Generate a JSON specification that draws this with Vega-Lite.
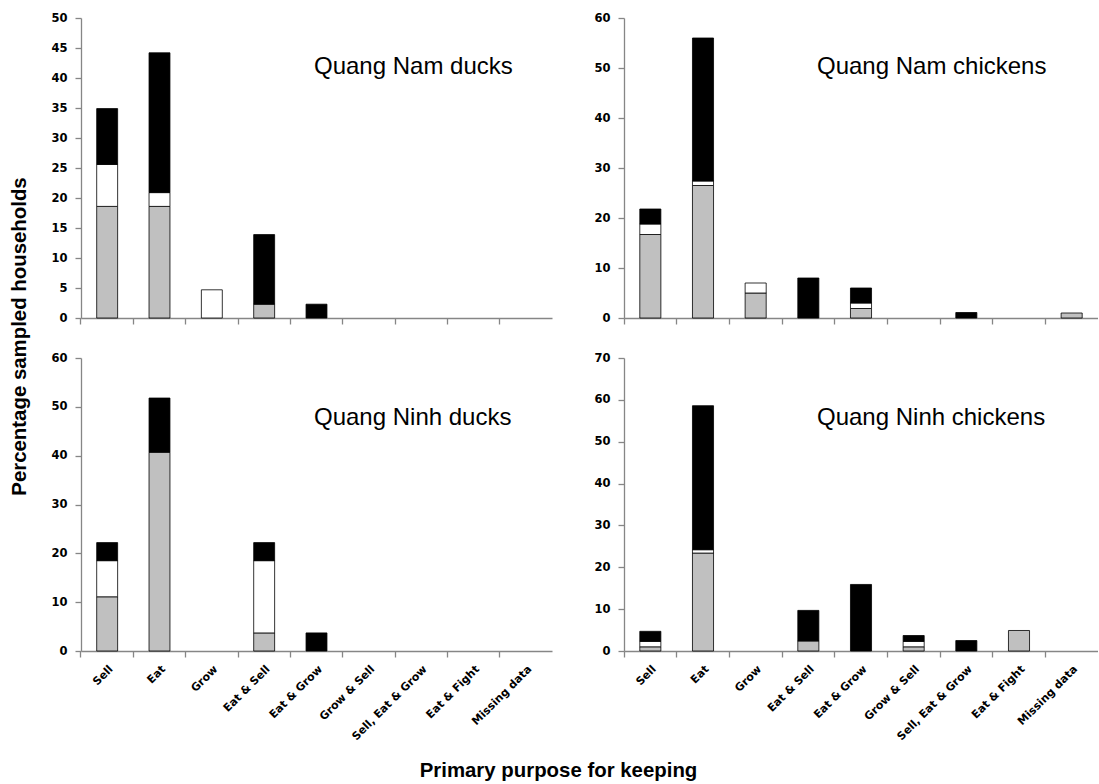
{
  "$schema": "https://vega.github.io/schema/vega-lite/v6.json",
  "background": "white",
  "autosize": {"type": "pad"},
  "padding": {"left": 9, "top": 12, "right": 0, "bottom": 0},
  "config": {
    "view": {"stroke": null},
    "font": "Liberation Sans",
    "axis": {
      "grid": false,
      "domainColor": "#868686",
      "tickColor": "#868686",
      "domainWidth": 1.3,
      "tickWidth": 1.3,
      "tickSize": 6,
      "labelFont": "DejaVu Sans",
      "labelFontWeight": "bold",
      "labelFontSize": 11.5,
      "labelColor": "#000000",
      "titleFont": "Liberation Sans",
      "titleFontSize": 20.4,
      "titleFontWeight": "bold",
      "titleColor": "#000000"
    },
    "axisY": {"labelPadding": 8},
    "title": {"font": "Liberation Sans", "fontSize": 24, "fontWeight": "normal", "color": "#000000", "anchor": "start", "frame": "group", "baseline": "alphabetic"}
  },
  "data": {
    "values": [
      {"panel": "Quang Nam ducks", "purpose": "Sell", "segment": "A", "value": 18.6},
      {"panel": "Quang Nam ducks", "purpose": "Sell", "segment": "B", "value": 7.0},
      {"panel": "Quang Nam ducks", "purpose": "Sell", "segment": "C", "value": 9.3},
      {"panel": "Quang Nam ducks", "purpose": "Eat", "segment": "A", "value": 18.6},
      {"panel": "Quang Nam ducks", "purpose": "Eat", "segment": "B", "value": 2.3},
      {"panel": "Quang Nam ducks", "purpose": "Eat", "segment": "C", "value": 23.3},
      {"panel": "Quang Nam ducks", "purpose": "Grow", "segment": "B", "value": 4.7},
      {"panel": "Quang Nam ducks", "purpose": "Eat & Sell", "segment": "A", "value": 2.3},
      {"panel": "Quang Nam ducks", "purpose": "Eat & Sell", "segment": "C", "value": 11.6},
      {"panel": "Quang Nam ducks", "purpose": "Eat & Grow", "segment": "C", "value": 2.3},

      {"panel": "Quang Nam chickens", "purpose": "Sell", "segment": "A", "value": 16.7},
      {"panel": "Quang Nam chickens", "purpose": "Sell", "segment": "B", "value": 2.1},
      {"panel": "Quang Nam chickens", "purpose": "Sell", "segment": "C", "value": 3.0},
      {"panel": "Quang Nam chickens", "purpose": "Eat", "segment": "A", "value": 26.5},
      {"panel": "Quang Nam chickens", "purpose": "Eat", "segment": "B", "value": 0.9},
      {"panel": "Quang Nam chickens", "purpose": "Eat", "segment": "C", "value": 28.6},
      {"panel": "Quang Nam chickens", "purpose": "Grow", "segment": "A", "value": 5.0},
      {"panel": "Quang Nam chickens", "purpose": "Grow", "segment": "B", "value": 2.0},
      {"panel": "Quang Nam chickens", "purpose": "Eat & Sell", "segment": "C", "value": 8.0},
      {"panel": "Quang Nam chickens", "purpose": "Eat & Grow", "segment": "A", "value": 1.9},
      {"panel": "Quang Nam chickens", "purpose": "Eat & Grow", "segment": "B", "value": 1.1},
      {"panel": "Quang Nam chickens", "purpose": "Eat & Grow", "segment": "C", "value": 3.0},
      {"panel": "Quang Nam chickens", "purpose": "Sell, Eat & Grow", "segment": "C", "value": 1.1},
      {"panel": "Quang Nam chickens", "purpose": "Missing data", "segment": "A", "value": 1.0},

      {"panel": "Quang Ninh ducks", "purpose": "Sell", "segment": "A", "value": 11.1},
      {"panel": "Quang Ninh ducks", "purpose": "Sell", "segment": "B", "value": 7.4},
      {"panel": "Quang Ninh ducks", "purpose": "Sell", "segment": "C", "value": 3.7},
      {"panel": "Quang Ninh ducks", "purpose": "Eat", "segment": "A", "value": 40.7},
      {"panel": "Quang Ninh ducks", "purpose": "Eat", "segment": "C", "value": 11.1},
      {"panel": "Quang Ninh ducks", "purpose": "Eat & Sell", "segment": "A", "value": 3.7},
      {"panel": "Quang Ninh ducks", "purpose": "Eat & Sell", "segment": "B", "value": 14.8},
      {"panel": "Quang Ninh ducks", "purpose": "Eat & Sell", "segment": "C", "value": 3.7},
      {"panel": "Quang Ninh ducks", "purpose": "Eat & Grow", "segment": "C", "value": 3.7},

      {"panel": "Quang Ninh chickens", "purpose": "Sell", "segment": "A", "value": 1.0},
      {"panel": "Quang Ninh chickens", "purpose": "Sell", "segment": "B", "value": 1.3},
      {"panel": "Quang Ninh chickens", "purpose": "Sell", "segment": "C", "value": 2.4},
      {"panel": "Quang Ninh chickens", "purpose": "Eat", "segment": "A", "value": 23.4},
      {"panel": "Quang Ninh chickens", "purpose": "Eat", "segment": "B", "value": 0.8},
      {"panel": "Quang Ninh chickens", "purpose": "Eat", "segment": "C", "value": 34.4},
      {"panel": "Quang Ninh chickens", "purpose": "Eat & Sell", "segment": "A", "value": 2.4},
      {"panel": "Quang Ninh chickens", "purpose": "Eat & Sell", "segment": "C", "value": 7.3},
      {"panel": "Quang Ninh chickens", "purpose": "Eat & Grow", "segment": "C", "value": 15.9},
      {"panel": "Quang Ninh chickens", "purpose": "Grow & Sell", "segment": "A", "value": 1.0},
      {"panel": "Quang Ninh chickens", "purpose": "Grow & Sell", "segment": "B", "value": 1.3},
      {"panel": "Quang Ninh chickens", "purpose": "Grow & Sell", "segment": "C", "value": 1.4},
      {"panel": "Quang Ninh chickens", "purpose": "Sell, Eat & Grow", "segment": "C", "value": 2.5},
      {"panel": "Quang Ninh chickens", "purpose": "Eat & Fight", "segment": "A", "value": 4.9}
    ]
  },
  "columns": 2,
  "bounds": "flush",
  "spacing": {"row": 40, "column": 72},
  "concat": [
    {
      "width": 471,
      "height": 300,
      "title": {"text": "Quang Nam ducks", "dx": 233, "offset": -67},
      "transform": [{"filter": "datum.panel === 'Quang Nam ducks'"}],
      "mark": {"type": "bar", "stroke": "#000000", "strokeWidth": 0.8},
      "encoding": {
        "x": {
          "field": "purpose", "type": "nominal",
          "scale": {"domain": ["Sell", "Eat", "Grow", "Eat & Sell", "Eat & Grow", "Grow & Sell", "Sell, Eat & Grow", "Eat & Fight", "Missing data"], "paddingInner": 0.6, "paddingOuter": 0.3},
          "axis": {"labels": false, "title": null, "bandPosition": -0.75}
        },
        "y": {
          "field": "value", "type": "quantitative", "stack": "zero",
          "scale": {"domain": [0, 50]},
          "axis": {"values": [0, 5, 10, 15, 20, 25, 30, 35, 40, 45, 50], "title": "Percentage sampled households", "titleX": -56, "titleY": 318, "titleAlign": "center", "titleBaseline": "alphabetic", "titleAngle": 270}
        },
        "color": {"field": "segment", "type": "nominal", "scale": {"domain": ["A", "B", "C"], "range": ["#c0c0c0", "#ffffff", "#000000"]}, "legend": null},
        "order": {"field": "segment", "sort": "ascending"}
      }
    },
    {
      "width": 474,
      "height": 300,
      "title": {"text": "Quang Nam chickens", "dx": 193, "offset": -67},
      "transform": [{"filter": "datum.panel === 'Quang Nam chickens'"}],
      "mark": {"type": "bar", "stroke": "#000000", "strokeWidth": 0.8},
      "encoding": {
        "x": {
          "field": "purpose", "type": "nominal",
          "scale": {"domain": ["Sell", "Eat", "Grow", "Eat & Sell", "Eat & Grow", "Grow & Sell", "Sell, Eat & Grow", "Eat & Fight", "Missing data"], "paddingInner": 0.6, "paddingOuter": 0.3},
          "axis": {"labels": false, "title": null, "bandPosition": -0.75}
        },
        "y": {
          "field": "value", "type": "quantitative", "stack": "zero",
          "scale": {"domain": [0, 60]},
          "axis": {"values": [0, 10, 20, 30, 40, 50, 60], "title": null}
        },
        "color": {"field": "segment", "type": "nominal", "scale": {"domain": ["A", "B", "C"], "range": ["#c0c0c0", "#ffffff", "#000000"]}, "legend": null},
        "order": {"field": "segment", "sort": "ascending"}
      }
    },
    {
      "width": 471,
      "height": 293,
      "title": {"text": "Quang Ninh ducks", "dx": 233, "offset": -78},
      "transform": [{"filter": "datum.panel === 'Quang Ninh ducks'"}],
      "mark": {"type": "bar", "stroke": "#000000", "strokeWidth": 0.8},
      "encoding": {
        "x": {
          "field": "purpose", "type": "nominal",
          "scale": {"domain": ["Sell", "Eat", "Grow", "Eat & Sell", "Eat & Grow", "Grow & Sell", "Sell, Eat & Grow", "Eat & Fight", "Missing data"], "paddingInner": 0.6, "paddingOuter": 0.3},
          "axis": {"labelAngle": -45, "labelFontSize": 11, "labelPadding": 6, "bandPosition": -0.75, "title": "Primary purpose for keeping", "titleX": 477, "titleY": 125, "titleAlign": "center", "titleBaseline": "alphabetic"}
        },
        "y": {
          "field": "value", "type": "quantitative", "stack": "zero",
          "scale": {"domain": [0, 60]},
          "axis": {"values": [0, 10, 20, 30, 40, 50, 60], "title": null}
        },
        "color": {"field": "segment", "type": "nominal", "scale": {"domain": ["A", "B", "C"], "range": ["#c0c0c0", "#ffffff", "#000000"]}, "legend": null},
        "order": {"field": "segment", "sort": "ascending"}
      }
    },
    {
      "width": 474,
      "height": 293,
      "title": {"text": "Quang Ninh chickens", "dx": 193, "offset": -78},
      "transform": [{"filter": "datum.panel === 'Quang Ninh chickens'"}],
      "mark": {"type": "bar", "stroke": "#000000", "strokeWidth": 0.8},
      "encoding": {
        "x": {
          "field": "purpose", "type": "nominal",
          "scale": {"domain": ["Sell", "Eat", "Grow", "Eat & Sell", "Eat & Grow", "Grow & Sell", "Sell, Eat & Grow", "Eat & Fight", "Missing data"], "paddingInner": 0.6, "paddingOuter": 0.3},
          "axis": {"labelAngle": -45, "labelFontSize": 11, "labelPadding": 6, "bandPosition": -0.75, "title": null}
        },
        "y": {
          "field": "value", "type": "quantitative", "stack": "zero",
          "scale": {"domain": [0, 70]},
          "axis": {"values": [0, 10, 20, 30, 40, 50, 60, 70], "title": null}
        },
        "color": {"field": "segment", "type": "nominal", "scale": {"domain": ["A", "B", "C"], "range": ["#c0c0c0", "#ffffff", "#000000"]}, "legend": null},
        "order": {"field": "segment", "sort": "ascending"}
      }
    }
  ]
}
